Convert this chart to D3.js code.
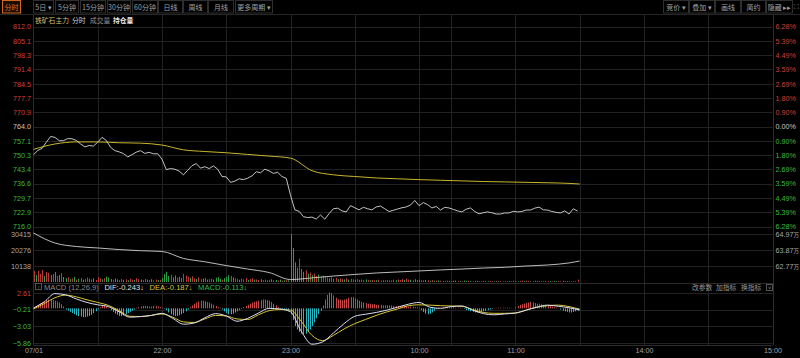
<!DOCTYPE html>
<html><head><meta charset="utf-8">
<script src="https://cdn.jsdelivr.net/npm/d3@7"></script>
<style>
html,body{margin:0;padding:0;background:#000;overflow:hidden;}
svg{display:block;font-family:"Liberation Sans",Arial,"Noto Sans CJK SC",sans-serif;}
</style></head><body>
<svg id="c" width="800" height="358"></svg>
<script>
// ---------------- DATA ----------------
const toolbarLeft = ["分时","5日 ▾","5分钟","15分钟","30分钟","60分钟","日线","周线","月线","更多周期 ▾"];
const toolbarRight = ["竞价 ▾","叠加 ▾","画线","简约","隐藏 ▸▸"];
const titleItems = ["铁矿石主力","分时","成交量","持仓量"];

const prevClose = 764.0;
const priceTicks = [812.0,805.1,798.3,791.4,784.5,777.7,770.9,764.0,757.1,750.3,743.4,736.6,729.7,722.9,716.0];
const pctLabels = ["6.28%","5.39%","4.49%","3.59%","2.69%","1.80%","0.90%","0.00%","0.90%","1.80%","2.69%","3.59%","4.49%","5.39%","6.28%"];
const volTicks = [30415,20276,10138];
const oiTicks = [64.97,63.87,62.77];
const macdTicks = [2.61,-0.21,-3.03,-5.86];
const timeTickMinutes = [0,60,120,180,225,285,345];
const timeLabels = ["07/01","22:00","23:00","10:00","11:00","14:00","15:00"];
const gridMinutes = [30,60,90,120,150,180,195,225,255,285,315];

// price every 2 trading minutes from 21:00
const price = [750.5,752.5,753.5,756.5,759.2,758.8,757.2,757.2,758.2,758.1,
757.3,755.6,754.2,754.9,754.6,756.5,758.8,757.3,754.0,752.4,
751.8,751.0,749.4,750.5,751.7,752.4,751.1,751.6,750.9,750.9,
748.3,743.3,743.8,743.5,742.6,740.8,743.0,745.2,746.2,744.0,
744.7,743.8,745.1,743.5,740.0,739.8,737.2,737.8,738.9,738.5,
739.2,740.3,742.3,741.8,743.5,742.7,741.5,742.0,740.0,739.1,
731.0,724.0,723.3,720.7,720.3,720.5,719.6,721.5,719.5,722.2,
724.5,724.8,723.5,723.0,726.0,725.0,724.0,725.2,724.5,724.0,
725.4,725.8,724.5,723.2,723.8,724.4,725.0,725.4,726.3,728.5,
726.0,727.5,726.5,724.9,725.6,723.9,725.2,724.9,724.2,723.5,
723.0,724.3,724.9,723.2,722.1,722.6,723.0,722.6,722.0,722.0,
722.5,722.5,723.3,723.0,723.2,723.9,723.9,724.8,725.3,724.0,
723.9,723.2,722.8,722.5,723.5,722.0,724.5,723.4];
// average price every 10 minutes (last point at minute 255)
const avgPrice = [753.0,755.6,756.6,756.6,756.2,756.0,755.1,752.8,752.0,751.4,750.6,749.8,748.8,742.8,740.8,740.0,739.3,738.9,738.5,738.2,737.9,737.6,737.4,737.2,737.0,736.7,736.4];
// open interest (万) every 10 minutes
const openInterest = [65.04,64.35,64.11,64.01,63.90,63.82,63.77,63.29,63.06,62.80,62.56,62.32,61.84,61.95,62.08,62.19,62.29,62.36,62.43,62.50,62.56,62.63,62.68,62.77,62.84,62.98,63.11];
// volume per minute (negative = down bar, green)
const volume = [7000,-4400,7000,5100,7600,-3800,6300,5700,-4400,5100,-6300,3800,-4400,5700,-3200,
-2500,3000,-1800,2200,-3200,1500,-2000,2600,-1500,1900,2800,-2100,1600,-2400,1300,
3000,2200,-1700,2500,-3500,-2800,-1900,1500,-2300,-1600,1200,2000,-1400,1700,-1100,
2100,1500,-1300,2400,1800,-1600,1200,2000,-1500,1300,-1800,1100,1600,-1200,1400,
-2500,-5000,-6500,-3800,4500,-3000,-4200,2800,-3300,-2500,5200,4000,3300,-2600,3600,
2400,-1900,2900,1700,-2200,2600,-1500,1800,2100,-1600,-2700,-3100,-2000,1500,-2400,
-3200,-4300,3800,-2900,2300,1900,-1400,2200,1700,2500,-1300,1900,2400,-1500,1600,
1300,-1800,1200,1500,-1000,1400,-1700,1100,-1300,900,-1500,800,-1100,1200,-1000,
-30415,-21500,-12500,-9000,14800,-8200,-6500,7500,-5200,6000,-4300,5400,3800,-4600,3500,
4200,3600,2800,-2400,3100,-2000,2600,-1800,2200,1900,-1600,2400,-1500,2000,1700,
-1400,1800,-1300,1500,1200,-1700,1400,-1100,1300,1000,-1200,1500,900,-1000,1100,
1300,-900,1000,1400,-1100,1600,1200,1800,-1300,2200,1500,-1400,1000,-1800,-1200,
-1500,1100,-900,-1300,1000,-800,1200,-700,900,-1000,800,-600,700,900,-700,
600,-800,-900,700,-600,500,-900,-700,800,-600,500,-700,-800,600,-500,
700,-600,-500,600,500,-400,700,-500,600,-400,500,400,-600,500,800,
600,-500,700,900,-600,800,700,-500,600,900,-700,600,500,-400,700,
500,-600,400,-700,-500,600,400,-800,-500,600,-400,-300,500,-400,1500];
// MACD DIF / DEA every 5 minutes
const dif = [0.06,1.1,2.5,2.3,1.6,1.0,0.6,0.3,-0.6,-1.5,-1.4,-1.2,-0.85,-1.7,-2.7,-2.5,-1.6,-0.9,-1.3,-2.2,-1.7,-0.8,0.0,-0.1,-0.6,-3.9,-6.1,-5.7,-4.2,-2.6,-1.35,-1.0,-0.7,-0.3,0.2,0.7,1.0,0.2,0.0,0.3,0.4,-0.3,-0.9,-1.1,-0.95,-0.8,-0.3,0.2,0.55,0.35,0.1,-0.28];
const dea = [-0.1,0.8,1.8,2.25,1.95,1.45,1.0,0.5,-0.4,-1.35,-1.4,-1.2,-0.95,-1.5,-2.3,-2.4,-1.8,-1.2,-1.3,-1.8,-1.9,-1.1,-0.4,-0.2,-0.3,-2.2,-4.6,-5.5,-4.6,-3.5,-2.6,-1.9,-1.2,-0.6,-0.1,0.45,0.6,0.55,0.45,0.4,0.35,-0.2,-0.7,-0.85,-0.85,-0.8,-0.3,0.2,0.45,0.55,0.3,-0.15];
// MACD histogram per minute
const macdHist = [0.2,0.4,0.6,0.8,1.0,1.2,1.4,1.5,1.5,1.4,1.3,1.2,1.0,0.7,0.3,
-0.2,-0.4,-0.6,-0.8,-1.0,-1.2,-1.3,-1.4,-1.5,-1.5,-1.4,-1.3,-1.1,-0.8,-0.5,-0.2,
0.2,0.4,0.5,0.3,0.1,
-0.3,-0.6,-0.9,-1.1,-1.3,-1.3,-1.2,-1.0,-0.8,-0.6,-0.4,-0.2,
0.1,0.2,0.3,0.4,0.4,0.4,0.3,0.3,0.4,0.4,0.3,0.2,0.1,-0.1,
-0.3,-0.7,-1.0,-1.2,-1.3,-1.3,-1.2,-1.0,-0.8,-0.5,-0.2,
0.2,0.5,0.8,1.0,1.2,1.3,1.3,1.2,1.1,1.0,0.8,0.6,0.4,0.2,0.1,
-0.2,-0.5,-0.8,-1.0,-1.0,-0.9,-0.7,-0.5,-0.3,-0.1,
0.2,0.4,0.6,0.8,1.0,1.1,1.2,1.3,1.4,1.5,1.5,1.4,1.3,1.1,0.8,0.5,0.2,
-0.1,-0.2,-0.3,-0.3,-0.4,
-1.0,-2.0,-3.0,-3.6,-4.0,-4.3,-4.4,-4.3,-4.0,-3.6,-3.0,-2.4,-1.7,-1.0,-0.4,
0.5,1.5,2.3,2.7,2.6,2.2,1.8,1.5,1.5,1.4,1.5,1.6,1.8,1.9,1.9,1.7,1.5,1.3,1.1,1.0,0.9,0.8,0.8,0.7,0.7,0.6,0.6,0.6,0.5,0.5,0.5,0.5,0.5,0.4,0.4,0.4,0.4,0.4,0.4,0.4,0.3,0.3,0.3,0.2,0.2,0.1,
-0.3,-0.6,-0.9,-1.0,-0.9,-0.7,-0.4,-0.1,
0.1,0.1,0.2,0.2,0.2,0.2,0.2,0.2,0.1,0.1,0.1,0.05,
-0.1,-0.3,-0.4,-0.5,-0.6,-0.7,-0.7,-0.7,-0.6,-0.5,-0.4,-0.3,-0.2,-0.1,
0.05,0.05,0.1,0.1,0.1,0.1,0.1,0.1,0.05,0.05,
0.2,0.4,0.6,0.7,0.8,0.9,1.0,1.1,1.0,0.9,0.8,0.8,0.7,0.6,0.5,0.5,0.4,0.3,0.2,0.1,0.05,
-0.2,-0.4,-0.5,-0.6,-0.7,-0.7,-0.6,-0.5,-0.4];
const macdHeader = [["MACD (12,26,9)","#8a8a8a"],["DIF:-0.243↓","#e0e0e0"],["DEA:-0.187↓","#d8c83a"],["MACD:-0.113↓","#2fbf4f"]];
const macdButtons = ["改参数","加指标","换指标"];

// ---------------- CHART ----------------
const svg = d3.select("#c");
const W = 800, H = 358, L = 33.5, R = 772.5;
const RED = "#c8433e", GREEN = "#3dbb3d", NEUTRAL = "#c8c8c8", GRID = "#222", AXTXT = "#a8a8a8";
const FS = 7.2;
svg.append("rect").attr("width",W).attr("height",H).attr("fill","#000");

const x = d3.scaleLinear().domain([0,345]).range([L,R]);
const yP = d3.scaleLinear().domain([716,812]).range([226.5,26.5]);
const yV = d3.scaleLinear().domain([0,30415]).range([282,234]);
const yOI = d3.scaleLinear().domain([62.77,64.97]).range([266,234]);
const yM = d3.scaleLinear().domain([-5.86,2.61]).range([342.8,293]);

// toolbar
const tb = svg.append("g").attr("font-size",7).attr("font-family","'Noto Sans CJK SC',sans-serif");
const leftBtnX = [[2,20],[33,53],[55,78],[80,105],[107,130],[132,157],[158,182],[183,207],[208,233],[235,272]];
toolbarLeft.forEach((t,i)=>{
  const [a,b] = leftBtnX[i];
  const sel = i===0;
  tb.append("rect").attr("x",a+0.5).attr("y",0.5).attr("width",b-a).attr("height",12.5)
    .attr("fill", sel?"#1a0d00":"none").attr("stroke", sel?"#d2691e":"#2e2e2e");
  tb.append("text").attr("x",(a+b)/2+0.5).attr("y",9.5).attr("text-anchor","middle")
    .attr("fill", sel?"#e07020":"#a0a0a0").text(t);
});
const rightBtnX = [[663,688],[689,714],[715,740],[741,765],[766,792]];
toolbarRight.forEach((t,i)=>{
  const [a,b] = rightBtnX[i];
  tb.append("rect").attr("x",a+0.5).attr("y",0.5).attr("width",b-a).attr("height",12.5)
    .attr("fill","none").attr("stroke","#2e2e2e");
  tb.append("text").attr("x",(a+b)/2+0.5).attr("y",9.5).attr("text-anchor","middle")
    .attr("fill","#a0a0a0").text(t);
});
tb.append("text").attr("x",794).attr("y",9).attr("fill","#888").attr("font-size",7).text("⛶");
svg.append("line").attr("x1",0).attr("x2",W).attr("y1",14.5).attr("y2",14.5).attr("stroke","#262626");

// vertical grid + borders
const vg = svg.append("g");
gridMinutes.forEach(m=>{
  vg.append("line").attr("x1",Math.round(x(m))+0.5).attr("x2",Math.round(x(m))+0.5)
    .attr("y1",15).attr("y2",345).attr("stroke",GRID);
});
[L-1, R].forEach(px=>{
  vg.append("line").attr("x1",Math.round(px)+0.5).attr("x2",Math.round(px)+0.5)
    .attr("y1",15).attr("y2",345).attr("stroke","#2c2c2c");
});

// title
const titleX = [35,72,90,113];
const titleCol = ["#d9bf73","#cfcfcf","#8f8f8f","#e8e8e8"];
titleItems.forEach((t,i)=>{
  svg.append("text").attr("x",titleX[i]).attr("y",22.5).attr("font-size",6.8)
    .attr("font-family","'Noto Sans CJK SC',sans-serif").attr("fill",titleCol[i])
    .attr("font-weight", i===3?"bold":"normal").text(t);
});

// price grid
const pg = svg.append("g");
priceTicks.forEach(v=>{
  const yy = Math.round(yP(v))+0.5;
  pg.append("line").attr("x1",L).attr("x2",R).attr("y1",yy).attr("y2",yy).attr("stroke",GRID);
});
const colorFor = v => v>prevClose+1e-9 ? RED : (v<prevClose-1e-9 ? GREEN : NEUTRAL);
const axL = svg.append("g").attr("transform",`translate(${L-1.5},0)`)
  .call(d3.axisLeft(yP).tickValues(priceTicks).tickFormat(d3.format(".1f")).tickSize(0).tickPadding(1));
axL.select(".domain").remove();
axL.selectAll("text").attr("font-size",FS).attr("font-family","'Liberation Sans',Arial,sans-serif")
  .attr("fill",d=>colorFor(d));
const axR = svg.append("g").attr("transform",`translate(${R+2},0)`)
  .call(d3.axisRight(yP).tickValues(priceTicks).tickFormat((d,i)=>pctLabels[i]).tickSize(0).tickPadding(1));
axR.select(".domain").remove();
axR.selectAll("text").attr("font-size",FS).attr("font-family","'Liberation Sans',Arial,sans-serif")
  .attr("fill",d=>colorFor(d));

// average line & price line
svg.append("path").datum(avgPrice)
  .attr("d", d3.line().x((d,i)=>x(Math.min(i*10,255))).y(d=>yP(d)).curve(d3.curveMonotoneX))
  .attr("fill","none").attr("stroke","#c9b52c").attr("stroke-width",1);
svg.append("path").datum(price)
  .attr("d", d3.line().x((d,i)=>x(i*2)).y(d=>yP(d)))
  .attr("fill","none").attr("stroke","#d8d8d8").attr("stroke-width",0.9);

// volume panel
const vgp = svg.append("g");
volTicks.forEach(v=>{
  const yy = Math.round(yV(v))+0.5;
  vgp.append("line").attr("x1",L).attr("x2",R).attr("y1",yy).attr("y2",yy).attr("stroke",GRID);
});
svg.append("line").attr("x1",L).attr("x2",R).attr("y1",283.5).attr("y2",283.5).attr("stroke","#2a2a2a");
const axVL = svg.append("g").attr("transform",`translate(${L-1.5},0)`)
  .call(d3.axisLeft(yV).tickValues(volTicks).tickFormat(d3.format("d")).tickSize(0).tickPadding(1));
axVL.select(".domain").remove();
axVL.selectAll("text").attr("font-size",FS).attr("font-family","'Liberation Sans',Arial,sans-serif").attr("fill",AXTXT);
const axVR = svg.append("g").attr("transform",`translate(${R+2},0)`)
  .call(d3.axisRight(yOI).tickValues(oiTicks).tickFormat(d=>d3.format(".2f")(d)).tickSize(0).tickPadding(1));
axVR.select(".domain").remove();
axVR.selectAll("text").attr("font-size",FS).attr("font-family","'Liberation Sans',Arial,sans-serif").attr("fill",AXTXT)
  .append("tspan").attr("font-size",5.6).attr("font-family","'Noto Sans CJK SC',sans-serif").text("万");

svg.append("g").selectAll("line").data(volume).join("line")
  .attr("x1",(d,i)=>Math.round(x(i))+0.5).attr("x2",(d,i)=>Math.round(x(i))+0.5)
  .attr("y1",yV(0)).attr("y2",d=>yV(Math.abs(d)))
  .attr("stroke",d=>d>=0?"#b83838":"#2a9e44").attr("stroke-width",1);
svg.append("path").datum(openInterest)
  .attr("d", d3.line().x((d,i)=>x(Math.min(i*10,255))).y(d=>yOI(d)).curve(d3.curveMonotoneX))
  .attr("fill","none").attr("stroke","#d0d0d0").attr("stroke-width",0.9);

// MACD panel
const mg = svg.append("g");
macdTicks.forEach(v=>{
  const yy = Math.round(yM(v))+0.5;
  mg.append("line").attr("x1",L).attr("x2",R).attr("y1",yy).attr("y2",yy).attr("stroke",GRID);
});
const axML = svg.append("g").attr("transform",`translate(${L-1.5},0)`)
  .call(d3.axisLeft(yM).tickValues(macdTicks).tickFormat(d3.format(".2f")).tickSize(0).tickPadding(1));
axML.select(".domain").remove();
axML.selectAll("text").attr("font-size",FS).attr("font-family","'Liberation Sans',Arial,sans-serif")
  .attr("fill",d=>d>0?RED:GREEN);

svg.append("g").selectAll("line").data(macdHist).join("line")
  .attr("x1",(d,i)=>Math.round(x(i))+0.5).attr("x2",(d,i)=>Math.round(x(i))+0.5)
  .attr("y1",yM(0)).attr("y2",d=>yM(d))
  .attr("stroke",d=>d>=0?"#c44848":"#27b6c4").attr("stroke-width",1);
svg.append("path").datum(dea)
  .attr("d", d3.line().x((d,i)=>x(Math.min(i*5,255))).y(d=>yM(d)).curve(d3.curveMonotoneX))
  .attr("fill","none").attr("stroke","#d8c830").attr("stroke-width",1);
svg.append("path").datum(dif)
  .attr("d", d3.line().x((d,i)=>x(Math.min(i*5,255))).y(d=>yM(d)).curve(d3.curveMonotoneX))
  .attr("fill","none").attr("stroke","#dcdcf0").attr("stroke-width",1);

// MACD header
svg.append("rect").attr("x",35.5).attr("y",283.5).attr("width",6).attr("height",6).attr("fill","none").attr("stroke","#555");
svg.append("text").attr("x",38.5).attr("y",289).attr("font-size",5.5).attr("text-anchor","middle").attr("fill","#999").text("↑");
let hx = 44;
const hg = svg.append("g").attr("font-size",7.6).attr("font-family","'Liberation Sans',Arial,sans-serif");
macdHeader.forEach(([t,c])=>{
  const tt = hg.append("text").attr("x",hx).attr("y",289.5).attr("fill",c).text(t);
  hx += tt.node().getComputedTextLength() + 5.5;
});
const mbX = [692,716,741];
macdButtons.forEach((t,i)=>{
  svg.append("text").attr("x",mbX[i]).attr("y",290).attr("font-size",6.8)
    .attr("font-family","'Noto Sans CJK SC',sans-serif").attr("fill","#9a9a9a").text(t);
});
svg.append("rect").attr("x",766.5).attr("y",284.5).attr("width",6).attr("height",6).attr("fill","none").attr("stroke","#555");
svg.append("text").attr("x",769.5).attr("y",290).attr("font-size",5.5).attr("text-anchor","middle").attr("fill","#999").text("˅");

// time axis
svg.append("line").attr("x1",L).attr("x2",R).attr("y1",345.5).attr("y2",345.5).attr("stroke","#2c2c2c");
const axT = svg.append("g").attr("transform","translate(0,345)")
  .call(d3.axisBottom(x).tickValues(timeTickMinutes).tickFormat((d,i)=>timeLabels[i]).tickSize(0).tickPadding(3));
axT.select(".domain").remove();
axT.selectAll("text").attr("font-size",FS).attr("font-family","'Liberation Sans',Arial,sans-serif").attr("fill","#a0a0a0");
</script>
</body></html>
